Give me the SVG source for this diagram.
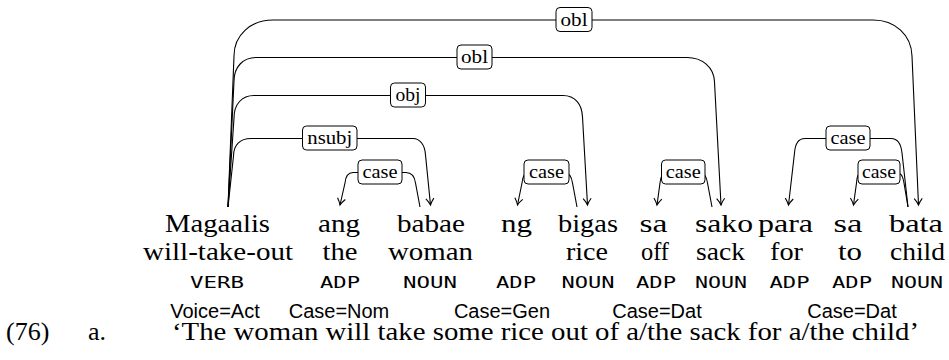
<svg xmlns="http://www.w3.org/2000/svg" width="949" height="360" viewBox="0 0 949 360">
<style>
.w{font-family:"Liberation Serif",serif;font-size:26px;text-anchor:middle;fill:#000}
.p{font-family:"DejaVu Sans Mono",monospace;font-size:16px;text-anchor:middle;fill:#000}
.f{font-family:"Liberation Sans",sans-serif;font-size:20px;text-anchor:middle;fill:#000}
.l{font-family:"Liberation Serif",serif;font-size:19px;text-anchor:middle;fill:#000}
.g{font-family:"Liberation Serif",serif;font-size:26px;fill:#000}
.e{fill:none;stroke:#000;stroke-width:1.1;marker-end:url(#arr)}
.box{fill:#fff;stroke:#000;stroke-width:1}
</style>
<defs>
<marker id="arr" markerUnits="userSpaceOnUse" viewBox="-8 -6 10 12" markerWidth="10" markerHeight="12" refX="0" refY="0" orient="auto" overflow="visible">
<path d="M-6.5,-4 C-4,-2 -1.5,-0.6 0,0 C-1.5,0.6 -4,2 -6.5,4" fill="none" stroke="#000" stroke-width="1.1"/>
</marker>
</defs>
<g id="connectors">
<g id="e-obl-bata">
<path class="e" d="M228,207 L234,56 C234,35 251,20 273,20 L873,20 C895,20 911.5,35 912,56 L918.5,205"/>
<rect class="box" x="556" y="7.5" width="36" height="24" rx="4"/>
<text class="l" x="574" y="25.5" textLength="27" lengthAdjust="spacingAndGlyphs">obl</text>
</g>
<g id="e-obl-sako">
<path class="e" d="M228,207 L234,81 C234,67 243,57.5 256,57.5 L687,57.5 C702,57.5 714,67 714.5,82 L721,205"/>
<rect class="box" x="457" y="45" width="35" height="24" rx="4"/>
<text class="l" x="474.5" y="63" textLength="27" lengthAdjust="spacingAndGlyphs">obl</text>
</g>
<g id="e-obj-bigas">
<path class="e" d="M228,207 L234,118 C234,104 242,95.5 254,95.5 L563,95.5 C575,95.5 582,104 582.5,117 L587.5,205"/>
<rect class="box" x="390.5" y="83" width="35" height="24" rx="4"/>
<text class="l" x="408" y="101" textLength="25" lengthAdjust="spacingAndGlyphs">obj</text>
</g>
<g id="e-nsubj-babae">
<path class="e" d="M228,207 L233.5,156 C233.5,145 240,138.5 251,138.5 L413,138.5 C420,138.5 425,145 425.5,155 L430.5,205"/>
<rect class="box" x="302.5" y="126" width="54.5" height="24" rx="4"/>
<text class="l" x="329.75" y="143.5" textLength="45" lengthAdjust="spacingAndGlyphs">nsubj</text>
</g>
<g id="e-case-ang">
<path class="e" d="M420,207 L415.5,183 Q414,172.5 406,172.5 L353,172.5 Q346,172.5 345,183 L340,205"/>
<rect class="box" x="358" y="160" width="44" height="24" rx="4"/>
<text class="l" x="380" y="177.5" textLength="35" lengthAdjust="spacingAndGlyphs">case</text>
</g>
<g id="e-case-ng">
<path class="e" d="M577,207 L572.5,183 Q571,172.5 564,172.5 L529,172.5 Q523,172.5 522,183 L517.5,205"/>
<rect class="box" x="524" y="160" width="45" height="24" rx="4"/>
<text class="l" x="546.5" y="177.5" textLength="35" lengthAdjust="spacingAndGlyphs">case</text>
</g>
<g id="e-case-sa1">
<path class="e" d="M712,207 L707.5,183 Q706,172.5 699,172.5 L667,172.5 Q661,172.5 660,183 L657,205"/>
<rect class="box" x="661.5" y="160" width="43.5" height="24" rx="4"/>
<text class="l" x="683.25" y="177.5" textLength="35" lengthAdjust="spacingAndGlyphs">case</text>
</g>
<g id="e-case-para">
<path class="e" d="M908,207 L902,153 Q900.5,138.5 891,138.5 L805,138.5 Q795.5,138.5 794.5,153 L788.5,205"/>
<rect class="box" x="826" y="126" width="44" height="24" rx="4"/>
<text class="l" x="848" y="143.5" textLength="35" lengthAdjust="spacingAndGlyphs">case</text>
</g>
<g id="e-case-sa2">
<path class="e" d="M908,207 L904,183 Q902.5,172.5 897,172.5 L862,172.5 Q857,172.5 856.5,183 L853.5,205"/>
<rect class="box" x="858" y="160" width="42" height="24" rx="4"/>
<text class="l" x="879" y="177.5" textLength="34" lengthAdjust="spacingAndGlyphs">case</text>
</g>
</g>
<g id="n-magaalis">
<text class="w" x="217.5" y="231.5" textLength="105" lengthAdjust="spacingAndGlyphs">Magaalis</text>
<text class="w" x="218" y="260" textLength="150" lengthAdjust="spacingAndGlyphs">will-take-out</text>
<text class="p" x="217" y="288.3" textLength="54" lengthAdjust="spacingAndGlyphs">VERB</text>
<text class="f" x="215" y="318">Voice=Act</text>
</g>
<g id="n-ang">
<text class="w" x="339" y="231.5" textLength="42" lengthAdjust="spacingAndGlyphs">ang</text>
<text class="w" x="340" y="260" textLength="35" lengthAdjust="spacingAndGlyphs">the</text>
<text class="p" x="340" y="288.3" textLength="40" lengthAdjust="spacingAndGlyphs">ADP</text>
<text class="f" x="339" y="318">Case=Nom</text>
</g>
<g id="n-babae">
<text class="w" x="431" y="231.5" textLength="68" lengthAdjust="spacingAndGlyphs">babae</text>
<text class="w" x="430.5" y="260" textLength="85" lengthAdjust="spacingAndGlyphs">woman</text>
<text class="p" x="430" y="288.3" textLength="54" lengthAdjust="spacingAndGlyphs">NOUN</text>
</g>
<g id="n-ng">
<text class="w" x="516.5" y="231.5" textLength="31" lengthAdjust="spacingAndGlyphs">ng</text>
<text class="p" x="516" y="288.3" textLength="40" lengthAdjust="spacingAndGlyphs">ADP</text>
<text class="f" x="502" y="318">Case=Gen</text>
</g>
<g id="n-bigas">
<text class="w" x="588" y="231.5" textLength="60" lengthAdjust="spacingAndGlyphs">bigas</text>
<text class="w" x="587" y="260" textLength="42" lengthAdjust="spacingAndGlyphs">rice</text>
<text class="p" x="588" y="288.3" textLength="53" lengthAdjust="spacingAndGlyphs">NOUN</text>
</g>
<g id="n-sa1">
<text class="w" x="653.5" y="231.5" textLength="28" lengthAdjust="spacingAndGlyphs">sa</text>
<text class="w" x="655" y="260" textLength="28" lengthAdjust="spacingAndGlyphs">off</text>
<text class="p" x="656" y="288.3" textLength="40" lengthAdjust="spacingAndGlyphs">ADP</text>
<text class="f" x="657" y="318">Case=Dat</text>
</g>
<g id="n-sako">
<text class="w" x="724" y="231.5" textLength="58" lengthAdjust="spacingAndGlyphs">sako</text>
<text class="w" x="720.5" y="260" textLength="49" lengthAdjust="spacingAndGlyphs">sack</text>
<text class="p" x="721" y="288.3" textLength="52" lengthAdjust="spacingAndGlyphs">NOUN</text>
</g>
<g id="n-para">
<text class="w" x="785.5" y="231.5" textLength="55" lengthAdjust="spacingAndGlyphs">para</text>
<text class="w" x="786.5" y="260" textLength="33" lengthAdjust="spacingAndGlyphs">for</text>
<text class="p" x="789.5" y="288.3" textLength="40" lengthAdjust="spacingAndGlyphs">ADP</text>
</g>
<g id="n-sa2">
<text class="w" x="848" y="231.5" textLength="29" lengthAdjust="spacingAndGlyphs">sa</text>
<text class="w" x="850" y="260" textLength="24" lengthAdjust="spacingAndGlyphs">to</text>
<text class="p" x="852" y="288.3" textLength="40" lengthAdjust="spacingAndGlyphs">ADP</text>
<text class="f" x="852" y="318">Case=Dat</text>
</g>
<g id="n-bata">
<text class="w" x="916" y="231.5" textLength="54" lengthAdjust="spacingAndGlyphs">bata</text>
<text class="w" x="917.5" y="260" textLength="55" lengthAdjust="spacingAndGlyphs">child</text>
<text class="p" x="917" y="288.3" textLength="52" lengthAdjust="spacingAndGlyphs">NOUN</text>
</g>
<g id="gloss">
<text class="g" x="6" y="339.5">(76)</text>
<text class="g" x="88" y="339.5">a.</text>
<text class="g" x="172" y="339.5" textLength="747" lengthAdjust="spacingAndGlyphs">‘The woman will take some rice out of a/the sack for a/the child’</text>
</g>
</svg>
